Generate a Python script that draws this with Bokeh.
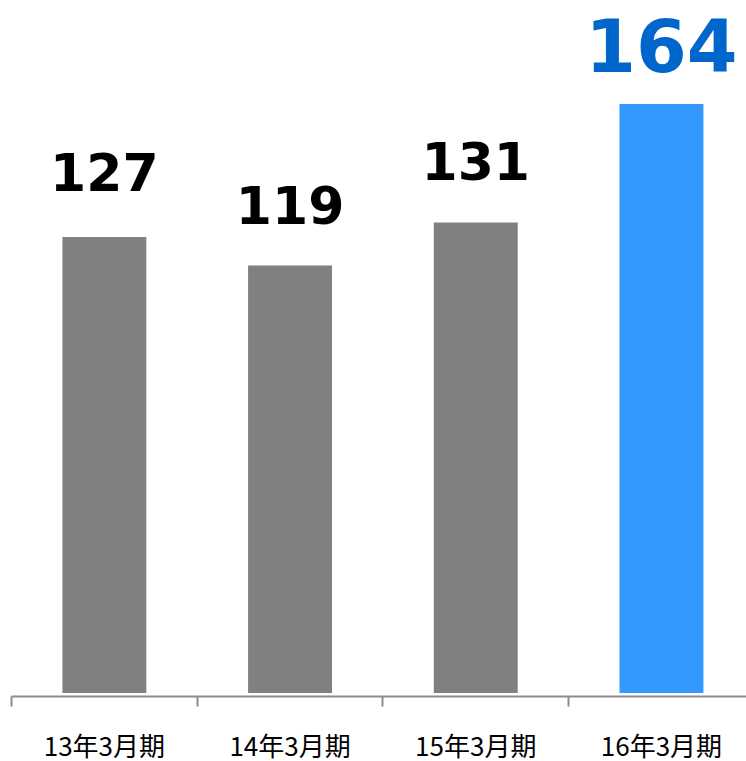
from bokeh.plotting import figure
from bokeh.models import FixedTicker, ColumnDataSource, Range1d
from bokeh.embed import file_html
from bokeh.resources import INLINE
from bokeh.core.properties import value

categories = ["13年3月期", "14年3月期", "15年3月期", "16年3月期"]
values = [127, 119, 131, 164]
labels = ["127", "119", "131", "164"]

bar_colors = ["#808080", "#808080", "#808080", "#3399FF"]
label_colors = ["#000000", "#000000", "#000000", "#0066CC"]
label_sizes = ["52px", "52px", "52px", "73px"]
label_offsets = [-65, -61, -62, -59]

xs = [i + 0.5 for i in range(len(categories))]
src = ColumnDataSource(dict(x=xs, top=values, bc=bar_colors, lc=label_colors,
                            ls=label_sizes, lo=label_offsets, txt=labels))

p = figure(frame_width=735, frame_height=688, output_backend="svg", toolbar_location=None,
           x_range=Range1d(0, 3.958), y_range=Range1d(-1, 190.6),
           min_border_left=11, min_border_right=0, min_border_top=8, min_border_bottom=65)
p.outline_line_color = None
p.xgrid.visible = False
p.ygrid.visible = False
p.yaxis.visible = False
p.background_fill_color = "white"
p.border_fill_color = "white"

p.vbar(x="x", top="top", bottom=0, width=0.452, fill_color="bc", line_color=None, source=src)
p.text(x="x", y="top", text="txt", text_color="lc", text_font_size="ls", y_offset="lo",
       text_font=value("DejaVu Sans"), text_font_style="bold",
       text_align="center", text_baseline="alphabetic", source=src)

ax = p.xaxis[0]
ax.ticker = FixedTicker(ticks=xs, minor_ticks=[0, 1, 2, 3, 4])
ax.major_label_overrides = {x: c for x, c in zip(xs, categories)}
ax.major_tick_out = 0
ax.major_tick_in = 0
ax.minor_tick_out = 10
ax.minor_tick_in = 0
ax.minor_tick_line_color = "#8c8c8c"
ax.minor_tick_line_width = 2
ax.axis_line_color = "#8c8c8c"
ax.axis_line_width = 2
ax.major_label_text_font = "Noto Sans CJK JP"
ax.major_label_text_font_size = "26px"
ax.major_label_text_color = "#000000"
ax.major_label_standoff = 19

open("out.html", "w").write(file_html(p, INLINE))
